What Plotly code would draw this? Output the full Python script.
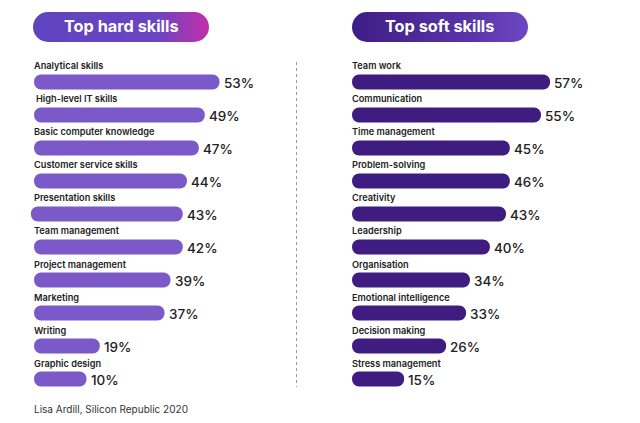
import base64
import plotly.graph_objects as go

# Labels as printed, plus the bar lengths as drawn (they don't follow the labels exactly)
hard_skills = ["Analytical skills", "High-level IT skills", "Basic computer knowledge",
               "Customer service skills", "Presentation skills", "Team management",
               "Project management", "Marketing", "Writing", "Graphic design"]
hard_pct = [53, 49, 47, 44, 43, 42, 39, 37, 19, 10]
hard_drawn = [53, 48.8, 47.1, 43.7, 42.5, 42.5, 39, 37.3, 18.8, 15]
hard_start = [0.01, 0.01, 0.01, 0.01, -0.9, 0.01, 0.01, 0.01, 0.01, 0.01]
hard_label_shift = [0, 2, 0, 0, 0, 0, 0, 0, 0, 0]

soft_skills = ["Team work", "Communication", "Time management", "Problem-solving",
               "Creativity", "Leadership", "Organisation", "Emotional intelligence",
               "Decision making", "Stress management"]
soft_pct = [57, 55, 45, 46, 43, 40, 34, 33, 26, 15]
soft_drawn = [56.6, 54, 45.1, 45.1, 44, 39.4, 33.7, 32.6, 26.9, 14.9]
soft_start = [0.01] * 10
soft_label_shift = [0] * 10

HARD_COLOR = "#7b59c9"
SOFT_COLOR = "#3e1c80"
FONT = "Inter"
TEXT = "#222222"
PX_PER_PCT = 3.5
W, H = 640, 423


def pill(c1, c2):
    # gradient header pill, shapes can't do gradients so it goes in as svg
    svg = (f'<svg xmlns="http://www.w3.org/2000/svg" width="176" height="30">'
           f'<defs><linearGradient id="g"><stop offset="0" stop-color="{c1}"/>'
           f'<stop offset="0.7" stop-color="{c2[0]}"/><stop offset="1" stop-color="{c2[1]}"/>'
           f'</linearGradient></defs><rect width="176" height="30" rx="15" fill="url(#g)"/></svg>')
    return "data:image/svg+xml;base64," + base64.b64encode(svg.encode()).decode()


fig = go.Figure()

panels = [
    (hard_skills, hard_pct, hard_drawn, hard_start, hard_label_shift, HARD_COLOR, "x", "y"),
    (soft_skills, soft_pct, soft_drawn, soft_start, soft_label_shift, SOFT_COLOR, "x2", "y2"),
]
for skills, pct, drawn, start, shift, color, xa, ya in panels:
    # a non-zero base makes plotly round both ends of the bar
    fig.add_trace(go.Bar(
        x=[d - s for d, s in zip(drawn, start)], y=skills, base=start, orientation="h",
        xaxis=xa, yaxis=ya,
        marker=dict(color=color, cornerradius=7, line=dict(width=0)),
        showlegend=False,
    ))
    for s, p, d, sh in zip(skills, pct, drawn, shift):
        fig.add_annotation(x=0, y=s, xref=xa, yref=ya, text=s, showarrow=False,
                           xanchor="left", yanchor="middle", xshift=sh - 2, yshift=16,
                           font=dict(family=FONT, size=9.2, color=TEXT, weight=600))
        fig.add_annotation(x=d, y=s, xref=xa, yref=ya, text=f"{p}%", showarrow=False,
                           xanchor="left", yanchor="middle", xshift=2, yshift=-1,
                           font=dict(family=FONT, size=13.5, color=TEXT, weight=500))

axis_common = dict(visible=False, fixedrange=True)
# axes start at -2 (7px left of the zero line) so the rounded ends aren't clipped
fig.update_layout(
    width=W, height=H, margin=dict(l=0, r=0, t=0, b=0),
    paper_bgcolor="white", plot_bgcolor="white", bargap=0.54, barmode="overlay",
    xaxis=dict(domain=[27 / W, 290 / W], range=[-2, 256 / PX_PER_PCT], **axis_common),
    xaxis2=dict(domain=[345 / W, 608 / W], range=[-2, 256 / PX_PER_PCT], **axis_common),
    yaxis=dict(domain=[1 - 395.5 / H, 1 - 65.5 / H], range=[9.5, -0.5], **axis_common),
    yaxis2=dict(domain=[1 - 395.5 / H, 1 - 65.5 / H], range=[9.5, -0.5], **axis_common),
    images=[
        dict(source=pill("#5f43c0", ("#6a45c2", "#c22fa8")), xref="paper", yref="paper",
             x=33 / W, y=1 - 12 / H, sizex=176 / W, sizey=30 / H, sizing="stretch",
             xanchor="left", yanchor="top", layer="below"),
        dict(source=pill("#3f1d85", ("#5a35aa", "#6e48c4")), xref="paper", yref="paper",
             x=352 / W, y=1 - 12 / H, sizex=176 / W, sizey=30 / H, sizing="stretch",
             xanchor="left", yanchor="top", layer="below"),
    ],
    shapes=[dict(type="line", xref="paper", yref="paper", x0=296.5 / W, x1=296.5 / W,
                 y0=1 - 62 / H, y1=1 - 387 / H, line=dict(color="#9a9a9a", width=1, dash="dot"))],
    annotations=list(fig.layout.annotations) + [
        dict(x=121 / W, y=1 - 26 / H, xref="paper", yref="paper", text="Top hard skills",
             showarrow=False, xanchor="center", yanchor="middle",
             font=dict(family=FONT, size=16.3, color="white", weight=700)),
        dict(x=439 / W, y=1 - 26 / H, xref="paper", yref="paper", text="Top soft skills",
             showarrow=False, xanchor="center", yanchor="middle",
             font=dict(family=FONT, size=16.3, color="white", weight=700)),
        dict(x=32 / W, y=1 - 409 / H, xref="paper", yref="paper", text="Lisa Ardill, Silicon Republic 2020",
             showarrow=False, xanchor="left", yanchor="middle",
             font=dict(family=FONT, size=10, color="#333333")),
    ],
)

# page margin would push everything 8px in
fig.write_html("out.html", config=dict(displayModeBar=False),
               post_script="document.body.style.margin='0';")
